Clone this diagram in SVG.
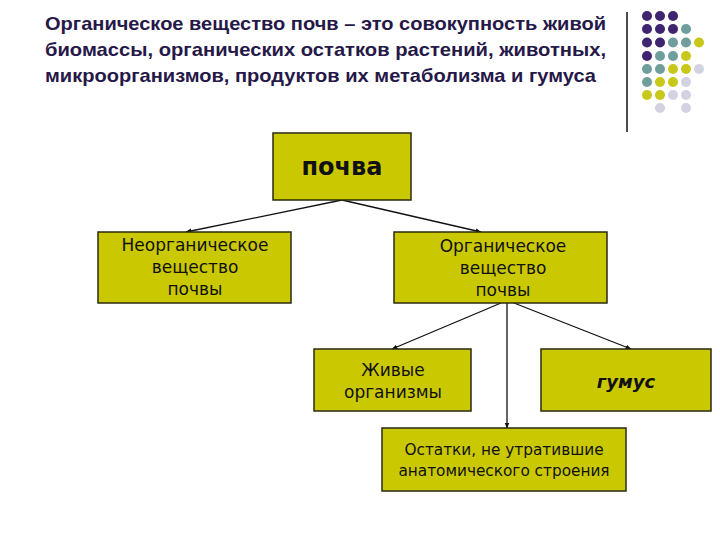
<svg xmlns="http://www.w3.org/2000/svg" width="720" height="540" viewBox="0 0 720 540">
<defs>
<marker id="ah" viewBox="0 0 10 10" refX="9" refY="5" markerWidth="6" markerHeight="6" orient="auto" markerUnits="userSpaceOnUse">
<path d="M0,1 L10,5 L0,9 z" fill="#111"/>
</marker>
</defs>
<style>
.title{font-family:"Liberation Sans",Arial,sans-serif;font-weight:bold;font-size:18.5px;fill:#261848}
.box{fill:#cac800;stroke:#2a2a10;stroke-width:1.5}
.t{font-family:"DejaVu Sans",Verdana,sans-serif;font-size:17px;fill:#111;text-anchor:middle}
.s{font-family:"DejaVu Sans",Verdana,sans-serif;font-size:15.3px;fill:#111;text-anchor:middle}
.c{stroke:#111;stroke-width:1.3;fill:none;marker-end:url(#ah)}
.p{fill:#3f2470}.g{fill:#6f9e9c}.y{fill:#c8c81a}.l{fill:#d2d2e2}
</style>
<rect width="720" height="540" fill="#fff"/>
<g id="title">
<text class="title" x="45" y="30" textLength="561" lengthAdjust="spacingAndGlyphs">Органическое вещество почв – это совокупность живой</text>
<text class="title" x="45" y="56" textLength="561" lengthAdjust="spacingAndGlyphs">биомассы, органических остатков растений, животных,</text>
<text class="title" x="45" y="82" textLength="551" lengthAdjust="spacingAndGlyphs">микроорганизмов, продуктов их метаболизма и гумуса</text>
</g>
<g id="decor">
<line x1="627" y1="12" x2="627" y2="132" stroke="#111" stroke-width="1.5"/>
<circle class="p" cx="647" cy="16" r="5"/><circle class="p" cx="660" cy="16" r="5"/><circle class="p" cx="673" cy="16" r="5"/>
<circle class="p" cx="647" cy="29" r="5"/><circle class="p" cx="660" cy="29" r="5"/><circle class="p" cx="673" cy="29" r="5"/><circle class="g" cx="686" cy="29" r="5"/>
<circle class="p" cx="647" cy="42.5" r="5"/><circle class="p" cx="660" cy="42.5" r="5"/><circle class="g" cx="673" cy="42.5" r="5"/><circle class="g" cx="686" cy="42.5" r="5"/><circle class="y" cx="699" cy="42.5" r="5"/>
<circle class="p" cx="647" cy="56" r="5"/><circle class="g" cx="660" cy="56" r="5"/><circle class="g" cx="673" cy="56" r="5"/><circle class="y" cx="686" cy="56" r="5"/>
<circle class="g" cx="647" cy="69" r="5"/><circle class="g" cx="660" cy="69" r="5"/><circle class="y" cx="673" cy="69" r="5"/><circle class="y" cx="686" cy="69" r="5"/><circle class="l" cx="699" cy="69" r="5"/>
<circle class="g" cx="647" cy="82" r="5"/><circle class="y" cx="660" cy="82" r="5"/><circle class="y" cx="673" cy="82" r="5"/><circle class="l" cx="686" cy="82" r="5"/>
<circle class="y" cx="647" cy="95" r="5"/><circle class="y" cx="660" cy="95" r="5"/><circle class="l" cx="673" cy="95" r="5"/><circle class="l" cx="686" cy="95" r="5"/>
<circle class="l" cx="660" cy="108" r="5"/><circle class="l" cx="686" cy="108" r="5"/>
</g>
<g id="connectors">
<line class="c" x1="342" y1="200" x2="186" y2="232"/>
<line class="c" x1="342" y1="200" x2="481" y2="232"/>
<line class="c" x1="501" y1="303" x2="392" y2="349"/>
<line class="c" x1="514" y1="303" x2="631" y2="349"/>
<line class="c" x1="507" y1="303" x2="507" y2="428"/>
</g>
<g id="n-pochva">
<rect class="box" x="273" y="133" width="138" height="67"/>
<text x="342" y="175" text-anchor="middle" font-family="DejaVu Sans,Verdana,sans-serif" font-weight="bold" font-size="24" fill="#111">почва</text>
</g>
<g id="n-inorg">
<rect class="box" x="98" y="232" width="193" height="71"/>
<text class="t" x="195" y="251">Неорганическое</text>
<text class="t" x="195" y="273">вещество</text>
<text class="t" x="195" y="295">почвы</text>
</g>
<g id="n-org">
<rect class="box" x="394" y="232" width="213" height="71"/>
<text class="t" x="503" y="252">Органическое</text>
<text class="t" x="503" y="274">вещество</text>
<text class="t" x="503" y="296">почвы</text>
</g>
<g id="n-live">
<rect class="box" x="314" y="349" width="157" height="62"/>
<text class="t" x="393" y="376">Живые</text>
<text class="t" x="393" y="398">организмы</text>
</g>
<g id="n-humus">
<rect class="box" x="541" y="349" width="170" height="62"/>
<text x="626" y="388" text-anchor="middle" font-family="DejaVu Sans,Verdana,sans-serif" font-weight="bold" font-style="italic" font-size="18" fill="#111">гумус</text>
</g>
<g id="n-rest">
<rect class="box" x="382" y="428" width="244" height="63"/>
<text class="s" x="504" y="455">Остатки, не утратившие</text>
<text class="s" x="504" y="476">анатомического строения</text>
</g>
</svg>
